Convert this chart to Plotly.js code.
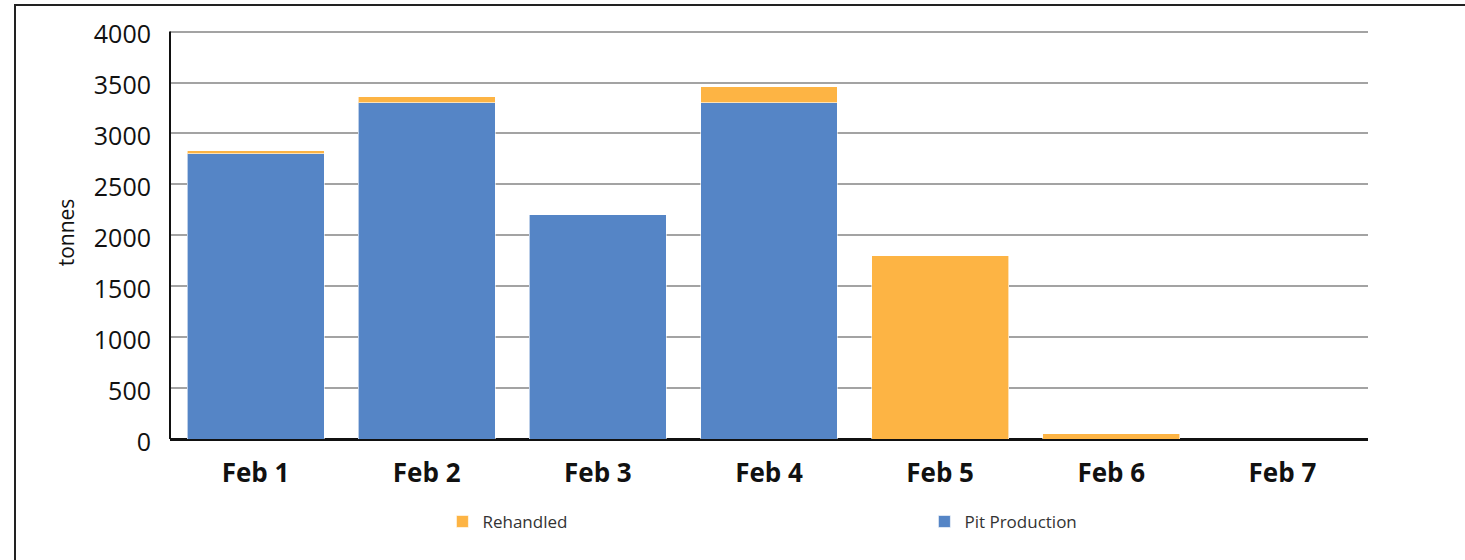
<!DOCTYPE html>
<html>
<head>
<meta charset="utf-8">
<script src="https://cdn.plot.ly/plotly-3.0.1.min.js"></script>
<style>
  html, body { margin: 0; padding: 0; background: #fff; overflow: hidden; }
  #frame { position: absolute; left: 14px; top: 4px; width: 2000px; height: 1000px;
           border-left: 2px solid #222; border-top: 2px solid #222; box-sizing: border-box; pointer-events: none; z-index: 2; }
  #chart { position: absolute; left: 0; top: 0; width: 1465px; height: 560px; }
</style>
</head>
<body>
<div id="chart"></div>
<div id="frame"></div>
<script>
const categories = ["Feb 1", "Feb 2", "Feb 3", "Feb 4", "Feb 5", "Feb 6", "Feb 7"];
const pitProduction = [2800, 3300, 2200, 3300, 0, 0, 0];
const rehandled = [30, 60, 0, 160, 1800, 50, 0];
const yTickVals = [0, 500, 1000, 1500, 2000, 2500, 3000, 3500, 4000];

const traces = [
  { type: "bar", name: "Pit Production", x: categories, y: pitProduction, legend: "legend2",
    marker: { color: "#5585C6", line: { color: "rgba(255,255,255,0.6)", width: 1 } },
    hoverinfo: "none" },
  { type: "bar", name: "Rehandled", x: categories, y: rehandled, legend: "legend",
    marker: { color: "#FDB444", line: { color: "rgba(255,255,255,0.6)", width: 1 } },
    hoverinfo: "none" }
];

const legendFont = { size: 17, color: "#333" };
const layout = {
  width: 1465, height: 560,
  margin: { l: 170, r: 97, t: 26, b: 121, pad: 0 },
  paper_bgcolor: "#fff", plot_bgcolor: "#fff",
  font: { family: "Open Sans, sans-serif", color: "#111" },
  barmode: "stack", bargap: 0.2,
  showlegend: true,
  legend: {
    orientation: "h", xref: "container", yref: "container",
    x: 0.302, xanchor: "left", y: 0.068, yanchor: "middle",
    font: legendFont
  },
  legend2: {
    orientation: "h", xref: "container", yref: "container",
    x: 0.631, xanchor: "left", y: 0.068, yanchor: "middle",
    font: legendFont
  },
  xaxis: {
    type: "category",
    showline: false, showgrid: false, zeroline: false,
    ticks: "", ticklabelstandoff: 16,
    tickfont: { size: 26, color: "#111", weight: "bold" }
  },
  yaxis: {
    range: [0, 4055], tickvals: yTickVals, ticktext: yTickVals.map(String),
    showline: false,
    showgrid: true, gridcolor: "#a3a3a3", gridwidth: 2,
    zeroline: true, zerolinecolor: "#111", zerolinewidth: 3,
    ticks: "", ticklabelstandoff: 18, ticklabelshift: 3,
    tickfont: { size: 25, color: "#111" },
    title: { text: "tonnes", font: { size: 21, color: "#111" }, standoff: 13 }
  },
  shapes: [
    { type: "line", xref: "paper", yref: "y", x0: 0, x1: 0, y0: 0, y1: yTickVals[yTickVals.length - 1],
      line: { color: "#111", width: 2 }, layer: "above" }
  ]
};

Plotly.newPlot("chart", traces, layout, { displayModeBar: false, staticPlot: true });
</script>
</body>
</html>
